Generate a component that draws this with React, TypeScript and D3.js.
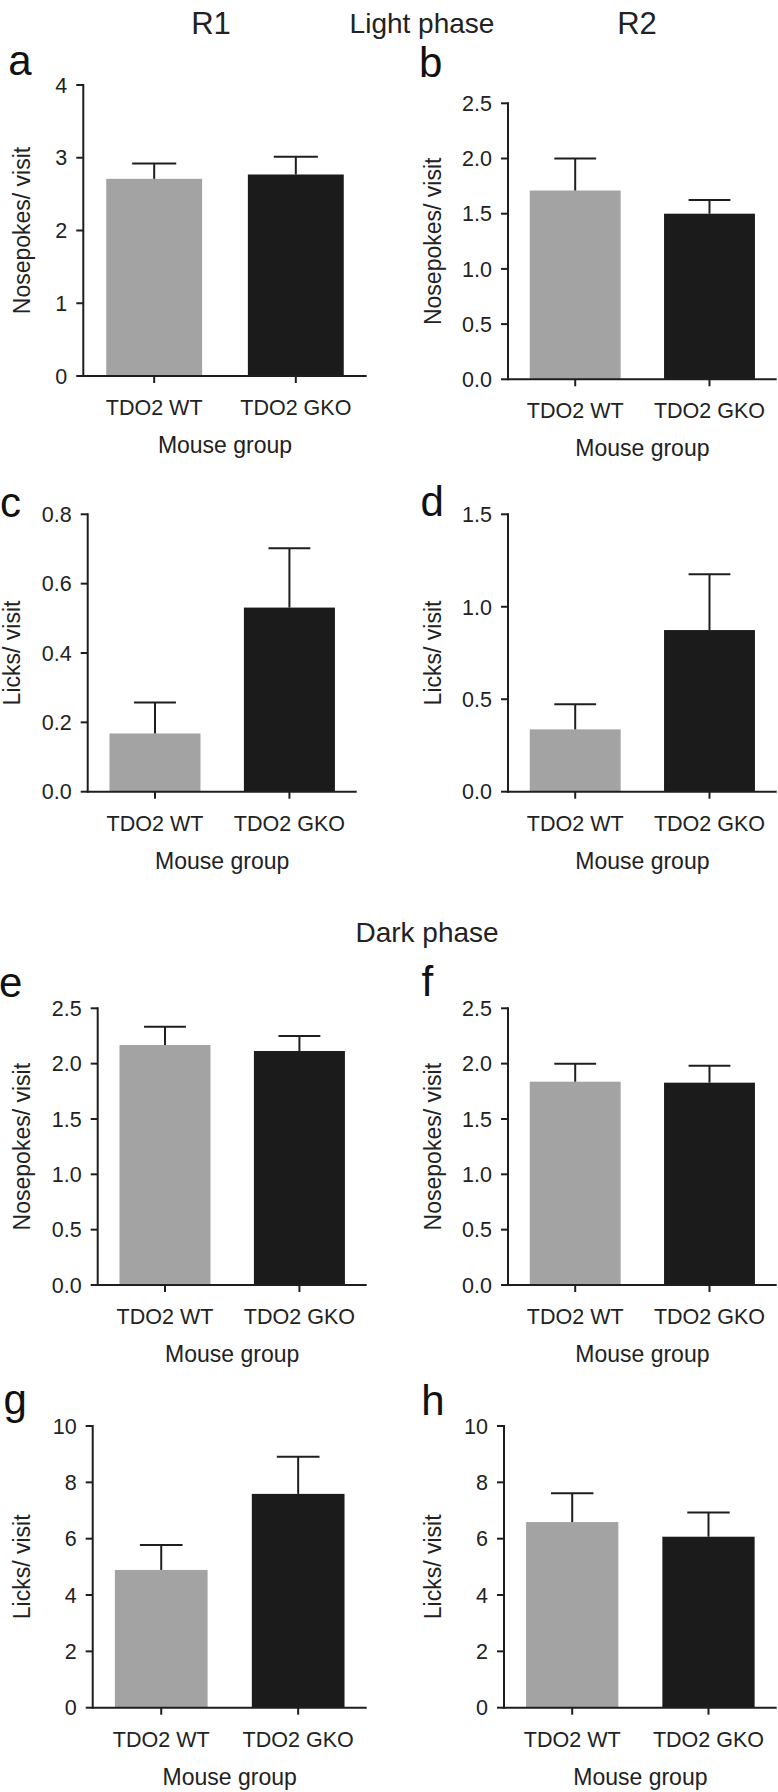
import React from "react";
import * as d3 from "d3";

// ---------- data ----------
const categories = ["TDO2 WT", "TDO2 GKO"];
const panelLetters = ["a", "b", "c", "d", "e", "f", "g", "h"];
const yTitles = [
  "Nosepokes/ visit", "Nosepokes/ visit",
  "Licks/ visit", "Licks/ visit",
  "Nosepokes/ visit", "Nosepokes/ visit",
  "Licks/ visit", "Licks/ visit",
];
const xTitle = "Mouse group";
const columnTitles = ["R1", "R2"];
const phaseTitles = ["Light phase", "Dark phase"];

// means and error (SEM) per panel
const lightNosepokesR1Mean = [2.71, 2.77];
const lightNosepokesR1Err = [0.21, 0.245];
const lightNosepokesR2Mean = [1.71, 1.50];
const lightNosepokesR2Err = [0.29, 0.125];
const lightLicksR1Mean = [0.168, 0.531];
const lightLicksR1Err = [0.089, 0.171];
const lightLicksR2Mean = [0.337, 0.874];
const lightLicksR2Err = [0.136, 0.302];
const darkNosepokesR1Mean = [2.168, 2.114];
const darkNosepokesR1Err = [0.166, 0.136];
const darkNosepokesR2Mean = [1.837, 1.828];
const darkNosepokesR2Err = [0.163, 0.152];
const darkLicksR1Mean = [4.89, 7.59];
const darkLicksR1Err = [0.89, 1.32];
const darkLicksR2Mean = [6.59, 6.07];
const darkLicksR2Err = [1.02, 0.86];

// y-axis ticks per panel
const ticksA = [0, 1, 2, 3, 4];
const ticksB = [0, 0.5, 1.0, 1.5, 2.0, 2.5];
const ticksC = [0, 0.2, 0.4, 0.6, 0.8];
const ticksD = [0, 0.5, 1.0, 1.5];
const ticksE = [0, 0.5, 1.0, 1.5, 2.0, 2.5];
const ticksF = [0, 0.5, 1.0, 1.5, 2.0, 2.5];
const ticksG = [0, 2, 4, 6, 8, 10];
const ticksH = [0, 2, 4, 6, 8, 10];

const means = [
  lightNosepokesR1Mean, lightNosepokesR2Mean, lightLicksR1Mean, lightLicksR2Mean,
  darkNosepokesR1Mean, darkNosepokesR2Mean, darkLicksR1Mean, darkLicksR2Mean,
];
const errs = [
  lightNosepokesR1Err, lightNosepokesR2Err, lightLicksR1Err, lightLicksR2Err,
  darkNosepokesR1Err, darkNosepokesR2Err, darkLicksR1Err, darkLicksR2Err,
];
const tickSets = [ticksA, ticksB, ticksC, ticksD, ticksE, ticksF, ticksG, ticksH];
const tickFormats = ["d", ".1f", ".1f", ".1f", ".1f", ".1f", "d", "d"];

// ---------- layout ----------
const W = 778;
const H = 1792;
const FONT = "'Liberation Sans', Arial, Helvetica, sans-serif";
const INK = "#1e1e1e";
const barColors = ["#a3a3a3", "#1b1b1b"];

const layout = [
  { x0: 83.3, x1: 366.7, yTop: 85, yZero: 376, titleX: 13.3, lx: 8.3, ly: 74.5 },
  { x0: 508, x1: 776.7, yTop: 103.3, yZero: 379.3, titleX: 424, lx: 419, ly: 76.5 },
  { x0: 87.7, x1: 356.7, yTop: 514.3, yZero: 791.7, titleX: 3.3, lx: 0, ly: 516.5 },
  { x0: 508, x1: 776.7, yTop: 514.3, yZero: 791.7, titleX: 424, lx: 420.5, ly: 515.5 },
  { x0: 97.7, x1: 366.7, yTop: 1008.3, yZero: 1285, titleX: 13, lx: -1, ly: 996.5 },
  { x0: 508, x1: 776.7, yTop: 1008.3, yZero: 1285, titleX: 424, lx: 421.5, ly: 995.5 },
  { x0: 92.7, x1: 366.7, yTop: 1426, yZero: 1707.7, titleX: 13.3, lx: 3.5, ly: 1414 },
  { x0: 504, x1: 776.7, yTop: 1426, yZero: 1707.7, titleX: 424, lx: 421.3, ly: 1415 },
];

const headerPos = [
  { text: columnTitles[0], x: 211, y: 34, size: 31 },
  { text: phaseTitles[0], x: 422, y: 33.3, size: 28 },
  { text: columnTitles[1], x: 637, y: 34, size: 31 },
  { text: phaseTitles[1], x: 427, y: 941.7, size: 28 },
];

function Panel({ i }: { i: number }) {
  const L = layout[i];
  const ticks = tickSets[i];
  const y = d3
    .scaleLinear()
    .domain([0, ticks[ticks.length - 1]])
    .range([L.yZero, L.yTop]);
  const x = d3
    .scaleBand<string>()
    .domain(categories)
    .range([L.x0, L.x1])
    .paddingInner(0.323)
    .paddingOuter(0.162);
  const fmt = d3.format(tickFormats[i]);
  const bw = x.bandwidth();
  const cap = bw * 0.23;
  const titleBaseX = L.titleX + 16.5;
  const midY = (L.yTop + L.yZero) / 2;
  return (
    <g>
      <text x={L.lx} y={L.ly} fontSize={42} fontFamily={FONT} fill="#111">
        {panelLetters[i]}
      </text>
      {categories.map((c, j) => {
        const bx = x(c) as number;
        const cx = bx + bw / 2;
        const top = y(means[i][j]);
        const et = y(means[i][j] + errs[i][j]);
        return (
          <g key={c}>
            <rect x={bx} y={top} width={bw} height={L.yZero - top} fill={barColors[j]} />
            <line x1={cx} x2={cx} y1={top} y2={et} stroke={INK} strokeWidth={2} />
            <line x1={cx - cap} x2={cx + cap} y1={et} y2={et} stroke={INK} strokeWidth={2} />
          </g>
        );
      })}
      {/* y axis */}
      <line x1={L.x0} x2={L.x0} y1={L.yTop - 1} y2={L.yZero + 1} stroke={INK} strokeWidth={2} />
      {ticks.map((t) => (
        <g key={t}>
          <line x1={L.x0 - 7} x2={L.x0} y1={y(t)} y2={y(t)} stroke={INK} strokeWidth={2} />
          <text
            x={L.x0 - 16}
            y={y(t)}
            dy="0.36em"
            textAnchor="end"
            fontSize={21.5}
            fontFamily={FONT}
            fill="#222"
          >
            {fmt(t)}
          </text>
        </g>
      ))}
      {/* x axis */}
      <line x1={L.x0} x2={Math.min(L.x1, W)} y1={L.yZero} y2={L.yZero} stroke={INK} strokeWidth={2} />
      {categories.map((c) => {
        const cx = (x(c) as number) + bw / 2;
        return (
          <g key={c}>
            <line x1={cx} x2={cx} y1={L.yZero} y2={L.yZero + 7} stroke={INK} strokeWidth={2} />
            <text
              x={cx}
              y={L.yZero + 39}
              textAnchor="middle"
              fontSize={21.5}
              fontFamily={FONT}
              fill="#222"
            >
              {c}
            </text>
          </g>
        );
      })}
      <text
        x={(L.x0 + L.x1) / 2}
        y={L.yZero + 77}
        textAnchor="middle"
        fontSize={23}
        fontFamily={FONT}
        fill="#222"
      >
        {xTitle}
      </text>
      <text
        transform={`translate(${titleBaseX},${midY}) rotate(-90)`}
        textAnchor="middle"
        fontSize={23}
        fontFamily={FONT}
        fill="#222"
      >
        {yTitles[i]}
      </text>
    </g>
  );
}

export default function App() {
  return (
    <div style={{ position: "absolute", left: 0, top: 0, width: W, height: H, background: "#fff" }}>
      <svg width={W} height={H} style={{ display: "block" }}>
        <rect x={0} y={0} width={W} height={H} fill="#fff" />
        {headerPos.map((h) => (
          <text
            key={h.text}
            x={h.x}
            y={h.y}
            textAnchor="middle"
            fontSize={h.size}
            fontFamily={FONT}
            fill="#222"
          >
            {h.text}
          </text>
        ))}
        {layout.map((_, i) => (
          <Panel key={i} i={i} />
        ))}
      </svg>
    </div>
  );
}
